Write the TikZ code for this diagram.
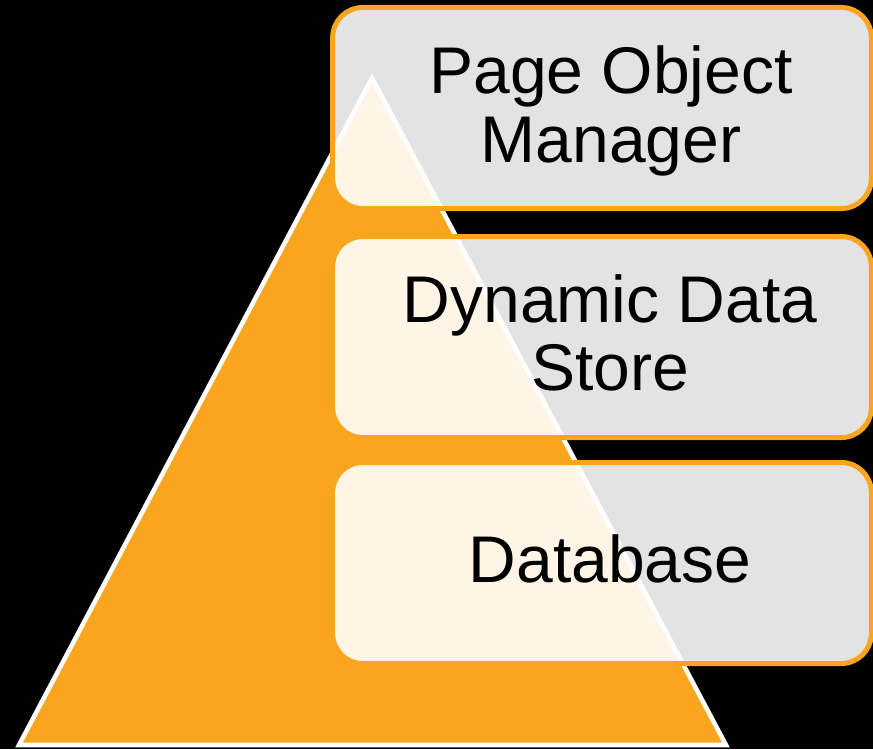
\documentclass[tikz,border=0pt]{standalone}
\usepackage{fontspec}
\setmainfont{Liberation Sans}
\usepackage{xcolor}
\definecolor{tierorange}{RGB}{249,166,30}

\tikzset{
    tier/.style={draw=tierorange, line width=3.75pt, rounded corners=22.5pt, fill=white, fill opacity=0.89, minimum width=404pt, minimum height=150.75pt, inner sep=0pt},
    tiertext/.style={align=center, text=black, font=\fontsize{49.5}{51.5}\selectfont}
}

\begin{document}
\begin{tikzpicture}[x=0.75pt, y=-0.75pt]
    \fill[black] (0,0) rectangle (873,749);
    \useasboundingbox (0,0) rectangle (873,749);
    % pyramid
    \draw[white, line width=3.4pt, fill=tierorange] (372,78) -- (726,745) -- (19,745) -- cycle;
    % tiers
    \node[tier] (pom) at (602,108) {};
    \node[tier] (dds) at (602,337) {};
    \node[tier] (db) at (602,563) {};
    \node[tiertext] (pomtext) at (611,111) {Page Object\\Manager};
    \node[tiertext] (ddstext) at (610,333) {Dynamic Data\\Store};
    \node[tiertext] (dbtext) at (610,559) {Database};
\end{tikzpicture}
\end{document}
